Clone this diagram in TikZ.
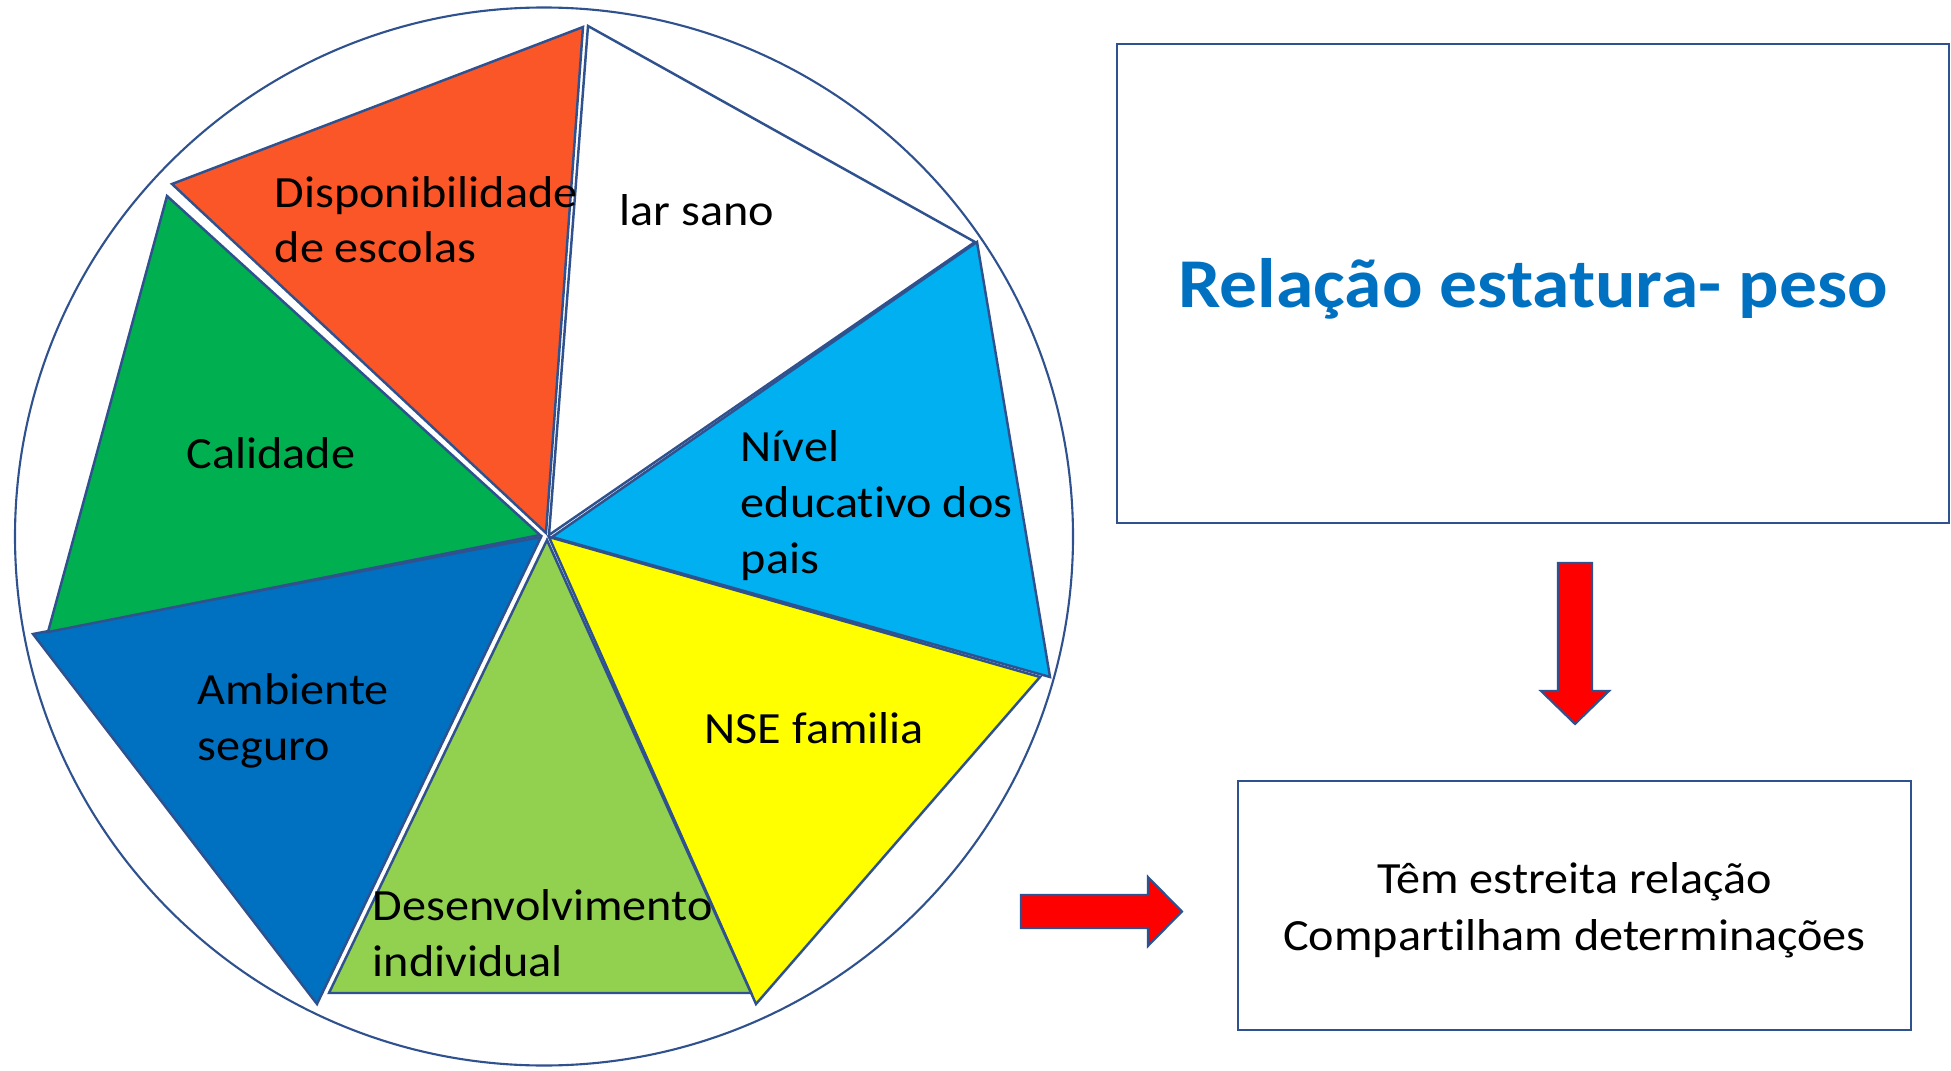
\documentclass[tikz,border=0pt]{standalone}
\usepackage{fontspec}
\setmainfont{Carlito}[FakeStretch=1.08, Ligatures=NoCommon]

\definecolor{edge}{RGB}{47,82,143}
\definecolor{pieorange}{RGB}{250,86,40}
\definecolor{piegreen}{HTML}{00B050}
\definecolor{pieblue}{HTML}{0070C0}
\definecolor{pielightblue}{HTML}{00B0F0}
\definecolor{pielime}{HTML}{92D050}
\definecolor{pieyellow}{HTML}{FFFF00}
\definecolor{titleblue}{HTML}{0070C0}

\begin{document}
\begin{tikzpicture}[
    slice/.style={draw=edge, line width=0.7pt, line join=miter},
    slicetxt/.style={anchor=base west, align=left, inner sep=0pt, font=\fontsize{12.7pt}{15.9pt}\selectfont},
    frame/.style={draw=edge, line width=0.8pt, inner sep=0pt},
    blockarrow/.style={draw=edge, line width=0.6pt, fill=red, line join=miter}
  ]
  \useasboundingbox (0,0) rectangle (19.51,10.70);

  % circle round the slices
  \draw[edge, line width=0.6pt] (5.44,5.335) circle (5.29);

  \draw[slice, fill=pieorange] (1.72,8.86) -- (5.83,10.43) -- (5.46,5.37) -- cycle;
  \draw[slice, fill=white] (5.88,10.44) -- (9.75,8.28) -- (5.49,5.35) -- cycle;
  \draw[slice, fill=pielightblue] (9.77,8.28) -- (10.50,3.93) -- (5.52,5.33) -- cycle;
  \draw[slice, fill=pieyellow] (10.40,3.93) -- (7.56,0.66) -- (5.49,5.33) -- cycle;
  \draw[slice, fill=pielime] (5.47,5.30) -- (3.29,0.77) -- (7.51,0.77) -- cycle;
  \draw[slice, fill=pieblue] (0.33,4.36) -- (3.17,0.66) -- (5.41,5.33) -- cycle;
  \draw[slice, fill=piegreen] (1.67,8.74) -- (0.48,4.38) -- (5.40,5.35) -- cycle;

  % labels (base = last line)
  \node[slicetxt] (disp) at (2.74,8.07) {Disponibilidade\\de escolas};
  \node[slicetxt] (lar) at (6.19,8.45) {lar sano};
  \node[slicetxt] (nivel) at (7.40,4.97) {Nível\\educativo dos\\pais};
  \node[slicetxt] (nse) at (7.04,3.27) {NSE familia};
  \node[slicetxt] (desenv) at (3.72,0.94) {Desenvolvimento\\individual};
  \node[slicetxt] (amb) at (1.97,3.10) {Ambiente\\seguro};
  \node[slicetxt] (calid) at (1.86,6.02) {Calidade};

  % boxes on the right
  \node[frame, minimum width=8.32cm, minimum height=4.79cm, text=titleblue,
        text height=0.6cm, text depth=0.13cm,
        font=\fontsize{19.9pt}{24pt}\selectfont\bfseries] (ratio) at (15.33,7.865) {Relação estatura- peso};
  \node[frame, minimum width=6.73cm, minimum height=2.49cm, align=center,
        text height=1.0cm, text depth=0.11cm,
        font=\fontsize{12.7pt}{16.2pt}\selectfont] (shared) at (15.745,1.645) {Têm estreita relação\\Compartilham determinações};

  \draw[blockarrow] (15.58,5.07) -- (15.92,5.07) -- (15.92,3.79) -- (16.09,3.79) -- (15.75,3.46)
    -- (15.41,3.79) -- (15.58,3.79) -- cycle;
  \draw[blockarrow] (10.21,1.75) -- (11.48,1.75) -- (11.48,1.93) -- (11.82,1.585) -- (11.48,1.24)
    -- (11.48,1.42) -- (10.21,1.42) -- cycle;
\end{tikzpicture}
\end{document}
